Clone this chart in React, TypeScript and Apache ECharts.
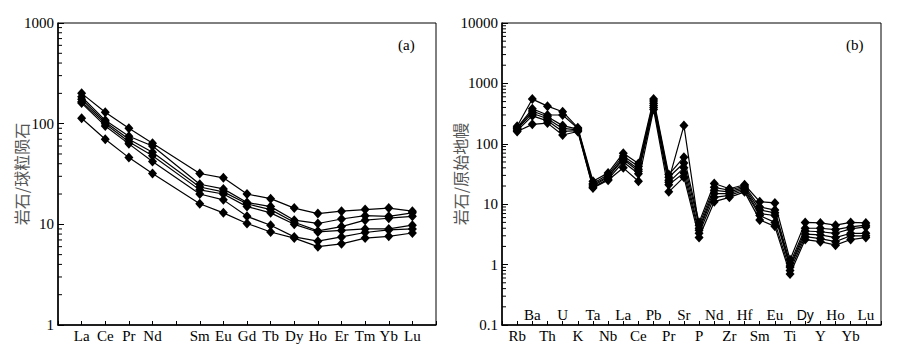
import React, { useEffect, useRef } from "react";
import * as echarts from "echarts";

// ---------- (a) chondrite-normalised REE ----------
const reeElements = ["La", "Ce", "Pr", "Nd", "Sm", "Eu", "Gd", "Tb", "Dy", "Ho", "Er", "Tm", "Yb", "Lu"];
// axis slots: blank at both ends, blank slot for Pm
const reeAxisSlots = ["", "La", "Ce", "Pr", "Nd", "", "Sm", "Eu", "Gd", "Tb", "Dy", "Ho", "Er", "Tm", "Yb", "Lu", ""];
const reeS1 = [200, 130, 90, 64, 32, 29, 20, 18, 14.5, 12.8, 13.5, 14, 14.5, 13.5];
const reeS2 = [185, 108, 75, 60, 25, 22.5, 16.5, 15, 11, 10.2, 11.3, 12.2, 12, 13];
const reeS3 = [175, 104, 70, 52, 23.5, 21, 16, 14, 10.5, 8.6, 9.5, 11, 11.5, 12];
const reeS4 = [165, 100, 66, 48, 22, 20, 15, 13, 10, 8.4, 8.7, 9, 9, 9.8];
const reeS5 = [160, 95, 63, 42, 20, 17.5, 12, 9.8, 7.5, 6.8, 7.5, 8.3, 8.8, 9];
const reeS6 = [113, 70, 46, 32, 16, 13, 10.2, 8.4, 7.3, 6.0, 6.4, 7.3, 7.6, 8.2];
const reeSeries = [reeS1, reeS2, reeS3, reeS4, reeS5, reeS6];
const reeYMin = 1;
const reeYMax = 1000;

// ---------- (b) primitive-mantle-normalised spider ----------
const spiderElements = ["Rb", "Ba", "Th", "U", "K", "Ta", "Nb", "La", "Ce", "Pb", "Pr", "Sr", "P", "Nd", "Zr", "Hf", "Sm", "Eu", "Ti", "Dy", "Y", "Ho", "Yb", "Lu"];
const spiderAxisSlots = ["", ...spiderElements, ""];
const spS1 = [195, 550, 420, 340, 185, 24, 33, 70, 47, 550, 31, 60, 5, 22, 18, 21, 11, 10.5, 1.2, 5, 4.9, 4.5, 5, 4.9];
const spS2 = [185, 380, 300, 300, 180, 22, 31, 63, 42, 510, 28, 48, 4.5, 19, 17, 20, 9, 8, 1.05, 4, 4, 3.8, 4.2, 4.5];
const spS3 = [180, 350, 280, 200, 175, 21, 29, 58, 38, 470, 25, 200, 4, 17, 16, 19, 8, 7.2, 0.95, 3.6, 3.5, 3.3, 3.9, 4.2];
const spS4 = [175, 320, 260, 180, 170, 20, 28, 55, 35, 430, 23, 40, 3.7, 15, 15, 18, 7, 6.5, 0.9, 3.2, 3.1, 2.8, 3.3, 3.3];
const spS5 = [165, 290, 240, 160, 165, 19, 26, 50, 32, 400, 21, 33, 3.3, 13, 14, 17, 6.5, 5, 0.8, 2.9, 2.7, 2.4, 3, 3];
const spS6 = [160, 210, 220, 140, 160, 18.5, 25, 40, 24, 370, 16, 28, 2.8, 11, 13, 16, 5.5, 4.3, 0.7, 2.6, 2.4, 2.1, 2.6, 2.8];
const spiderSeries = [spS1, spS2, spS3, spS4, spS5, spS6];
const spYMin = 0.1;
const spYMax = 10000;

const SERIF = "Times New Roman, Liberation Serif, DejaVu Serif, serif";
const SANS = "Arial, Liberation Sans, sans-serif";
const CJK = "Noto Sans CJK SC, sans-serif";

function minorTicks(min: number, max: number): number[] {
  const out: number[] = [];
  for (let d = min; d < max * 0.999; d *= 10) {
    for (let k = 2; k <= 9; k++) out.push(+(d * k).toPrecision(6));
  }
  return out;
}

function minorTickSeries(xAxisIndex: number, yAxisIndex: number, vals: number[]) {
  return {
    type: "custom",
    xAxisIndex,
    yAxisIndex,
    silent: true,
    clip: false,
    z: 5,
    data: vals.map((v) => [0, v]),
    renderItem: (_params: any, api: any) => {
      const p = api.coord([0, api.value(1)]);
      return {
        type: "line",
        shape: { x1: p[0], y1: p[1], x2: p[0] + 4, y2: p[1] },
        style: { stroke: "#000", lineWidth: 1 },
      };
    },
  };
}

export default function App() {
  const ref = useRef<HTMLDivElement>(null);

  useEffect(() => {
    if (!ref.current) return;
    const chart = echarts.init(ref.current, undefined, { renderer: "svg" });

    const reeData = (vals: number[]) =>
      reeAxisSlots.map((c) => (c === "" ? null : vals[reeElements.indexOf(c)]));
    const spData = (vals: number[]) =>
      spiderAxisSlots.map((c) => (c === "" ? null : vals[spiderElements.indexOf(c)]));

    const lineStyleCommon = {
      type: "line",
      symbol: "diamond",
      symbolSize: [9, 10],
      connectNulls: true,
      itemStyle: { color: "#000" },
      lineStyle: { color: "#000", width: 1.2 },
      emphasis: { disabled: true },
    };

    const yAxisCommon = {
      type: "log",
      logBase: 10,
      axisLine: { show: true, lineStyle: { color: "#000", width: 1.5 } },
      axisTick: { show: true, inside: true, length: 6, lineStyle: { color: "#000", width: 1 } },
      splitLine: { show: false },
      axisLabel: {
        color: "#000",
        fontFamily: SERIF,
        fontSize: 15,
        margin: 4,
        formatter: (v: number) => String(v),
      },
      nameLocation: "middle",
      nameMoveOverlap: false,
      nameTextStyle: { color: "#555", fontFamily: CJK, fontSize: 16 },
    };

    const xAxisCommon = {
      type: "category",
      boundaryGap: false,
      axisLine: { show: true, lineStyle: { color: "#000", width: 1.5 } },
      axisTick: { show: true, inside: true, length: 4, interval: 0, lineStyle: { color: "#000", width: 1 } },
      splitLine: { show: false },
    };

    const richSans = { sans: { fontFamily: SANS, fontSize: 14, color: "#000" } };

    const option: any = {
      animation: false,
      backgroundColor: "#fff",
      textStyle: { fontFamily: SERIF },
      grid: [
        { left: 58, top: 23, width: 378, height: 302, show: true, borderColor: "#000", borderWidth: 1, containLabel: false, outerBoundsMode: "none" },
        { left: 502, top: 23, width: 379, height: 302, show: true, borderColor: "#000", borderWidth: 1, containLabel: false, outerBoundsMode: "none" },
      ],
      xAxis: [
        {
          ...xAxisCommon,
          gridIndex: 0,
          data: reeAxisSlots,
          axisLabel: { interval: 0, color: "#000", fontFamily: SERIF, fontSize: 15, margin: 3 },
        },
        {
          ...xAxisCommon,
          gridIndex: 1,
          data: spiderAxisSlots,
          axisLabel: {
            interval: 0,
            color: "#000",
            fontFamily: SERIF,
            fontSize: 15,
            margin: 3,
            formatter: (v: string, i: number) => (i % 2 === 1 ? (v === "Dy" ? "{sans|Dy}" : v) : ""),
            rich: richSans,
          },
        },
        {
          type: "category",
          boundaryGap: false,
          gridIndex: 1,
          position: "bottom",
          data: spiderAxisSlots,
          axisLine: { show: false },
          axisTick: { show: false },
          splitLine: { show: false },
          axisLabel: {
            inside: true,
            interval: 0,
            color: "#000",
            fontFamily: SERIF,
            fontSize: 15,
            margin: 3,
            formatter: (v: string, i: number) => (i % 2 === 0 ? (v === "Dy" ? "{sans|Dy}" : v) : ""),
            rich: richSans,
          },
        },
      ],
      yAxis: [
        { ...yAxisCommon, gridIndex: 0, min: reeYMin, max: reeYMax, name: "岩石/球粒陨石", nameGap: 29 },
        { ...yAxisCommon, gridIndex: 1, min: spYMin, max: spYMax, name: "岩石/原始地幔", nameGap: 34 },
      ],
      graphic: [
        { type: "text", left: 398, top: 37, style: { text: "(a)", fontFamily: SERIF, fontSize: 15, fill: "#000" } },
        { type: "text", left: 846, top: 37, style: { text: "(b)", fontFamily: SERIF, fontSize: 15, fill: "#000" } },
      ],
      series: [
        ...reeSeries.map((s) => ({ ...lineStyleCommon, xAxisIndex: 0, yAxisIndex: 0, data: reeData(s) })),
        ...spiderSeries.map((s) => ({ ...lineStyleCommon, xAxisIndex: 1, yAxisIndex: 1, data: spData(s) })),
        minorTickSeries(0, 0, minorTicks(reeYMin, reeYMax)),
        minorTickSeries(1, 1, minorTicks(spYMin, spYMax)),
      ],
    };

    chart.setOption(option);
    return () => chart.dispose();
  }, []);

  return (
    <div
      ref={ref}
      style={{ position: "fixed", left: 0, top: 0, width: 902, height: 351, background: "#fff" }}
    />
  );
}
